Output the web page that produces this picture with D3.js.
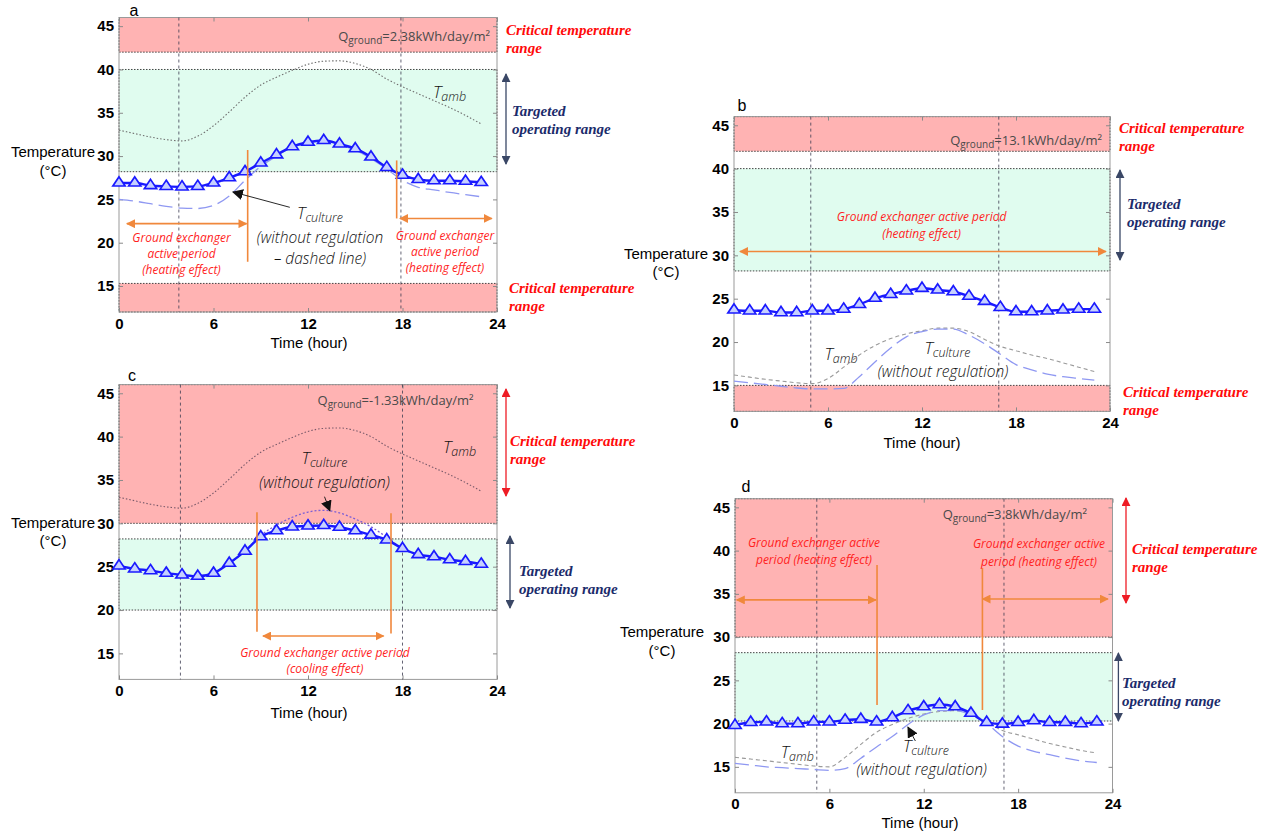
<!DOCTYPE html>
<html>
<head>
<meta charset="utf-8">
<script src="https://cdn.jsdelivr.net/npm/d3@7"></script>
<style>
  body { margin: 0; background: #fff; }
  svg { display: block; }
  .tick text { font-family: "Liberation Sans", Arial, sans-serif; font-weight: bold; font-size: 15px; fill: #000; }
  .tick line { stroke: #8a8a8a; }
  .axis-title { font-family: "Liberation Sans", Arial, sans-serif; font-size: 15px; fill: #000; }
  .letter { font-family: "Liberation Sans", Arial, sans-serif; font-size: 16px; fill: #000; }
  .critical { font-family: "Liberation Serif", "Times New Roman", serif; font-weight: bold; font-style: italic; font-size: 15px; fill: #ff0a0a; }
  .targeted { font-family: "Liberation Serif", "Times New Roman", serif; font-weight: bold; font-style: italic; font-size: 15px; fill: #1b2b6b; }
  .ground { font-family: "Open Sans", "DejaVu Sans", sans-serif; font-style: italic; font-weight: 400; font-size: 12px; fill: #ff1f1f; }
  .note { font-family: "Open Sans", "DejaVu Sans", sans-serif; font-style: italic; font-weight: 300; font-size: 15.5px; fill: #111; }
  .qtext { font-family: "Open Sans", "DejaVu Sans", sans-serif; font-size: 13px; fill: #4a4a4a; }
</style>
</head>
<body>
<div id="chart"></div>
<script>
// hourly values (°C)
const hours = [0, 1, 2, 3, 4, 5, 6, 7, 8, 9, 10, 11, 12, 13, 14, 15, 16, 17, 18, 19, 20, 21, 22, 23];
const xTicks = [0, 6, 12, 18, 24];
const yTicks = [15, 20, 25, 30, 35, 40, 45];

const aRegulated   = [26.9, 26.9, 26.6, 26.5, 26.45, 26.5, 26.9, 27.5, 28.2, 29.2, 30.15, 31.1, 31.6, 31.8, 31.4, 30.85, 29.9, 28.7, 27.8, 27.3, 27.15, 27.15, 27.1, 26.95];
const aUnregulated = [25.0, 24.8, 24.5, 24.2, 24.0, 23.95, 24.3, 25.4, 27.2, 28.8, 30.0, 31.0, 31.5, 31.7, 31.3, 30.7, 29.7, 28.5, 27.2, 26.4, 26.1, 25.8, 25.55, 25.3];
const aAmbient     = [33.0, 32.6, 32.2, 31.9, 31.75, 32.3, 33.5, 35.1, 36.8, 38.2, 39.1, 39.9, 40.6, 40.95, 41.0, 40.7, 40.0, 38.9, 38.0, 37.2, 36.4, 35.6, 34.7, 33.7];

const bRegulated   = [23.7, 23.6, 23.6, 23.4, 23.4, 23.6, 23.6, 23.8, 24.35, 25.05, 25.5, 25.9, 26.2, 26.0, 25.8, 25.3, 24.7, 24.0, 23.5, 23.5, 23.6, 23.7, 23.8, 23.8];
const bUnregulated = [15.5, 15.3, 15.1, 14.9, 14.7, 14.6, 14.6, 14.65, 16.0, 17.7, 19.3, 20.6, 21.2, 21.5, 21.5, 20.8, 19.8, 18.6, 17.4, 16.8, 16.3, 16.0, 15.8, 15.6];
const bAmbient     = [16.2, 15.95, 15.7, 15.5, 15.3, 15.2, 15.8, 17.1, 18.5, 19.6, 20.4, 20.95, 21.3, 21.6, 21.6, 21.2, 20.3, 19.5, 19.0, 18.5, 18.1, 17.6, 17.1, 16.6];

const cRegulated   = [25.1, 24.75, 24.55, 24.25, 24.05, 23.9, 24.25, 25.4, 26.8, 28.45, 29.15, 29.6, 29.7, 29.75, 29.55, 29.15, 28.65, 28.1, 27.1, 26.4, 26.15, 25.8, 25.6, 25.3];
const cUnregulated = [25.1, 24.75, 24.55, 24.25, 24.05, 23.9, 24.25, 25.4, 26.8, 28.6, 29.8, 30.7, 31.3, 31.5, 31.2, 30.5, 29.6, 28.4, 27.1, 26.4, 26.15, 25.8, 25.6, 25.3];
const cAmbient     = [33.0, 32.6, 32.2, 31.9, 31.75, 32.3, 33.5, 35.1, 36.8, 38.2, 39.1, 39.9, 40.6, 40.95, 41.0, 40.7, 40.0, 38.9, 38.0, 37.2, 36.4, 35.6, 34.7, 33.7];

const dRegulated   = [19.8, 20.15, 20.2, 20.0, 20.0, 20.2, 20.2, 20.4, 20.5, 20.2, 20.7, 21.5, 21.95, 22.2, 21.95, 21.2, 20.15, 19.95, 20.15, 20.35, 20.15, 20.15, 20.0, 20.2];
const dUnregulated = [15.4, 15.2, 15.0, 14.9, 14.8, 14.7, 14.6, 14.8, 16.0, 17.3, 18.5, 19.9, 21.0, 21.5, 21.5, 21.0, 20.0, 18.5, 17.4, 16.8, 16.4, 16.0, 15.7, 15.5];
const dAmbient     = [16.1, 15.9, 15.7, 15.5, 15.3, 15.1, 15.0, 16.1, 17.6, 19.0, 19.9, 20.6, 21.1, 21.4, 21.5, 21.1, 20.2, 19.2, 18.7, 18.2, 17.7, 17.3, 16.9, 16.6];

// temperature ranges [low, high]
const aCritical = [[42, 46], [12, 15.3]];
const aTarget   = [28.2, 40];
const bCritical = [[42, 46], [12, 15]];
const bTarget   = [28.2, 40];
const cCritical = [[30, 46]];
const cTarget   = [20, 28.2];
const dCritical = [[30, 46]];
const dTarget   = [20.3, 28.2];

// sunrise / sunset markers (hour)
const aDayMarks = [3.8, 17.9];
const bDayMarks = [4.9, 16.9];
const cDayMarks = [3.9, 18.0];
const dDayMarks = [5.2, 17.1];

const qGround = { a: "=2.38kWh/day/m²", b: "=13.1kWh/day/m²", c: "=-1.33kWh/day/m²", d: "=3.8kWh/day/m²" };

const ORANGE = "#f0883c", NAVY = "#3a4766", RED = "#ee1c25";

const svg = d3.select("#chart").append("svg").attr("width", 1266).attr("height", 834);
const defs = svg.append("defs");

function marker(id, color, size) {
  defs.append("marker")
    .attr("id", id)
    .attr("viewBox", "0 0 10 10")
    .attr("refX", 9).attr("refY", 5)
    .attr("markerWidth", size).attr("markerHeight", size)
    .attr("markerUnits", "userSpaceOnUse")
    .attr("orient", "auto-start-reverse")
    .append("path").attr("d", "M0,0 L10,5 L0,10 z").attr("fill", color);
}
marker("m-orange", ORANGE, 9);
marker("m-navy", NAVY, 9);
marker("m-red", RED, 9);
marker("m-black", "#111", 11);

function seg(x1, y1, x2, y2, color, width, head) {
  const l = svg.append("line")
    .attr("x1", x1).attr("y1", y1).attr("x2", x2).attr("y2", y2)
    .attr("stroke", color).attr("stroke-width", width);
  if (head) {
    l.attr("marker-end", `url(#${head})`);
    if (head !== "m-black") l.attr("marker-start", `url(#${head})`);
  }
  return l;
}

function lines(px, baselines, texts, cls, anchor) {
  texts.forEach((t, i) => {
    svg.append("text").attr("class", cls)
      .attr("x", px).attr("y", baselines[i])
      .attr("text-anchor", anchor || "start")
      .text(t);
  });
}

function tSub(px, py, sub, anchor) {
  const t = svg.append("text").attr("class", "note")
    .attr("x", px).attr("y", py).attr("text-anchor", anchor || "start");
  t.append("tspan").attr("font-size", 17).text("T");
  t.append("tspan").attr("font-size", 12.5).attr("dy", 3).text(sub);
}

function qLabel(px, py, value) {
  const t = svg.append("text").attr("class", "qtext")
    .attr("x", px).attr("y", py).attr("text-anchor", "end");
  t.append("tspan").text("Q");
  t.append("tspan").attr("font-size", 10).attr("dy", 3).text("ground");
  t.append("tspan").attr("dy", -3).text(value);
}

function drawPanel(p) {
  const x = d3.scaleLinear().domain([0, 24]).range([p.left, p.right]);
  const y = d3.scaleLinear().domain([12, 46]).range([p.bottom, p.top]);
  const g = svg.append("g");

  // shaded ranges
  p.critical.forEach(r => {
    g.append("rect")
      .attr("x", x(0)).attr("width", x(24) - x(0))
      .attr("y", y(r[1])).attr("height", y(r[0]) - y(r[1]))
      .attr("fill", "#ffb3b3")
      .attr("stroke", "#444").attr("stroke-dasharray", "1.5,1.5").attr("stroke-width", 1);
  });
  g.append("rect")
    .attr("x", x(0)).attr("width", x(24) - x(0))
    .attr("y", y(p.target[1])).attr("height", y(p.target[0]) - y(p.target[1]))
    .attr("fill", "#e0fcef")
    .attr("stroke", "#444").attr("stroke-dasharray", "1.5,1.5").attr("stroke-width", 1);

  // frame
  g.append("rect")
    .attr("x", p.left).attr("y", p.top)
    .attr("width", p.right - p.left).attr("height", p.bottom - p.top)
    .attr("fill", "none").attr("stroke", "#9a9a9a");

  // axes with inward ticks on all sides
  const bottomAx = g.append("g").attr("transform", `translate(0,${p.bottom})`)
    .call(d3.axisBottom(x).tickValues(xTicks).tickSize(-4).tickPadding(6));
  const leftAx = g.append("g").attr("transform", `translate(${p.left},0)`)
    .call(d3.axisLeft(y).tickValues(yTicks).tickSize(-4).tickPadding(5));
  const topAx = g.append("g").attr("transform", `translate(0,${p.top})`)
    .call(d3.axisTop(x).tickValues(xTicks).tickSize(-4).tickFormat(""));
  const rightAx = g.append("g").attr("transform", `translate(${p.right},0)`)
    .call(d3.axisRight(y).tickValues(yTicks).tickSize(-4).tickFormat(""));
  [bottomAx, leftAx, topAx, rightAx].forEach(a => a.select(".domain").remove());

  // sunrise/sunset dashed lines
  p.dayMarks.forEach(h => {
    g.append("line")
      .attr("x1", x(h)).attr("x2", x(h)).attr("y1", p.top).attr("y2", p.bottom)
      .attr("stroke", "#3c3c50").attr("stroke-width", 0.8).attr("stroke-dasharray", "3,3");
  });

  const line = d3.line().x((d, i) => x(hours[i])).y(d => y(d)).curve(d3.curveMonotoneX);

  g.append("path").datum(p.ambient).attr("d", line)
    .attr("fill", "none").attr("stroke", p.ambColor).attr("stroke-width", 1.1)
    .attr("stroke-dasharray", p.ambDash);

  g.append("path").datum(p.unregulated).attr("d", line)
    .attr("fill", "none").attr("stroke", p.unregColor).attr("stroke-width", 1.3)
    .attr("stroke-dasharray", p.unregDash);

  g.append("path").datum(p.regulated).attr("d", line)
    .attr("fill", "none").attr("stroke", "#1a1aff").attr("stroke-width", 2.4);

  g.selectAll(".tri").data(p.regulated).join("path")
    .attr("class", "tri")
    .attr("transform", (d, i) => `translate(${x(hours[i])},${y(d)}) scale(1.1,0.95)`)
    .attr("d", d3.symbol(d3.symbolTriangle, 55))
    .attr("fill", "#c6d0ff").attr("stroke", "#1a1aff").attr("stroke-width", 1.6);

  return { x, y };
}

const panels = [
  { id: "a", left: 119, right: 497, top: 17.5, bottom: 312, critical: aCritical, target: aTarget, dayMarks: aDayMarks,
    regulated: aRegulated, unregulated: aUnregulated, ambient: aAmbient,
    ambColor: "#6f6f6f", ambDash: "1.5,2", unregColor: "#8f98f2", unregDash: "14,6" },
  { id: "b", left: 734, right: 1110, top: 116.6, bottom: 411.4, critical: bCritical, target: bTarget, dayMarks: bDayMarks,
    regulated: bRegulated, unregulated: bUnregulated, ambient: bAmbient,
    ambColor: "#9a9a9a", ambDash: "4,3", unregColor: "#8f98f2", unregDash: "14,6" },
  { id: "c", left: 119, right: 497, top: 384.6, bottom: 679.4, critical: cCritical, target: cTarget, dayMarks: cDayMarks,
    regulated: cRegulated, unregulated: cUnregulated, ambient: cAmbient,
    ambColor: "#7a5a6a", ambDash: "1.5,2", unregColor: "#7d5fd6", unregDash: "2,2" },
  { id: "d", left: 735, right: 1112.5, top: 498.7, bottom: 792.8, critical: dCritical, target: dTarget, dayMarks: dDayMarks,
    regulated: dRegulated, unregulated: dUnregulated, ambient: dAmbient,
    ambColor: "#9a9a9a", ambDash: "4,3", unregColor: "#8f98f2", unregDash: "14,6" }
];

const scales = {};
panels.forEach(p => { scales[p.id] = drawPanel(p); });

// ---- panel a annotations
{
  const { x, y } = scales.a;
  seg(x(8.17), y(30.7), x(8.17), y(17.8), ORANGE, 1.6);
  seg(x(17.63), y(29.5), x(17.63), y(22.8), ORANGE, 1.6);
  seg(x(0.5), y(22.2), x(8.1), y(22.2), ORANGE, 1.6, "m-orange");
  seg(x(17.84), y(22.8), x(23.67), y(22.8), ORANGE, 1.6, "m-orange");
  lines(181.5, [242, 258, 274], ["Ground exchanger", "active period", "(heating effect)"], "ground", "middle");
  lines(445, [240, 256, 272], ["Ground exchanger", "active period", "(heating effect)"], "ground", "middle");
  tSub(320, 219, "culture", "middle");
  lines(320, [243, 264], ["(without regulation", "– dashed line)"], "note", "middle");
  seg(289.8, 207.3, 233, 192, "#111", 0.9, "m-black");
  tSub(433, 98, "amb");
  qLabel(490, 41, qGround.a);
  lines(506, [35, 53], ["Critical temperature", "range"], "critical");
  lines(509, [293, 311], ["Critical temperature", "range"], "critical");
  lines(512, [116, 134], ["Targeted", "operating range"], "targeted");
  seg(506, 74, 506, 164, NAVY, 1.3, "m-navy");
  lines(134, [16], ["a"], "letter", "middle");
  lines(53, [157, 176], ["Temperature", "(°C)"], "axis-title", "middle");
  lines(309, [348], ["Time (hour)"], "axis-title", "middle");
}

// ---- panel b annotations
{
  const { x, y } = scales.b;
  seg(x(0.38), y(30.44), x(23.74), y(30.44), ORANGE, 1.6, "m-orange");
  lines(921.6, [221, 237.5], ["Ground exchanger active period", "(heating effect)"], "ground", "middle");
  tSub(824.5, 360, "amb");
  tSub(924.5, 354, "culture");
  lines(943, [377], ["(without regulation)"], "note", "middle");
  qLabel(1102, 145, qGround.b);
  lines(1119, [133, 151], ["Critical temperature", "range"], "critical");
  lines(1123, [397, 415], ["Critical temperature", "range"], "critical");
  lines(1127, [209, 227], ["Targeted", "operating range"], "targeted");
  seg(1120, 170, 1120, 260, NAVY, 1.3, "m-navy");
  lines(742, [111], ["b"], "letter", "middle");
  lines(666, [258.5, 277], ["Temperature", "(°C)"], "axis-title", "middle");
  lines(922, [447.5], ["Time (hour)"], "axis-title", "middle");
}

// ---- panel c annotations
{
  const { x, y } = scales.c;
  seg(x(8.76), y(31.27), x(8.76), y(17.5), ORANGE, 1.6);
  seg(x(17.27), y(31.16), x(17.27), y(17.3), ORANGE, 1.6);
  seg(x(9.14), y(17.0), x(16.8), y(17.0), ORANGE, 1.6, "m-orange");
  lines(325, [656.5, 673], ["Ground exchanger active period", "(cooling effect)"], "ground", "middle");
  tSub(324.5, 464, "culture", "middle");
  lines(324.5, [488], ["(without regulation)"], "note", "middle");
  seg(324.5, 496.7, 329.8, 510.7, "#111", 0.9, "m-black");
  tSub(443, 453, "amb");
  qLabel(473.5, 405, qGround.c);
  seg(506, 389, 506, 496, RED, 1.3, "m-red");
  lines(510, [446, 464], ["Critical temperature", "range"], "critical");
  seg(510, 536, 510, 608, NAVY, 1.3, "m-navy");
  lines(519, [576, 594], ["Targeted", "operating range"], "targeted");
  lines(132, [381], ["c"], "letter", "middle");
  lines(53, [527.5, 545.5], ["Temperature", "(°C)"], "axis-title", "middle");
  lines(309, [718], ["Time (hour)"], "axis-title", "middle");
}

// ---- panel d annotations
{
  const { x, y } = scales.d;
  seg(x(9.03), y(38.33), x(9.03), y(22.15), ORANGE, 1.6);
  seg(x(15.73), y(38.0), x(15.73), y(21.57), ORANGE, 1.6);
  seg(x(0.11), y(34.3), x(8.96), y(34.3), ORANGE, 1.6, "m-orange");
  seg(x(15.73), y(34.4), x(23.71), y(34.4), ORANGE, 1.6, "m-orange");
  lines(814, [547, 564], ["Ground exchanger active", "period (heating effect)"], "ground", "middle");
  lines(1039, [548, 565.5], ["Ground exchanger active", "period (heating effect)"], "ground", "middle");
  tSub(780.7, 758, "amb");
  tSub(903, 752, "culture");
  lines(921.7, [775], ["(without regulation)"], "note", "middle");
  seg(915.4, 741, 908, 727.3, "#111", 0.9, "m-black");
  qLabel(1087, 519, qGround.d);
  seg(1126, 498, 1126, 603, RED, 1.3, "m-red");
  lines(1132, [553.5, 572], ["Critical temperature", "range"], "critical");
  seg(1118.4, 653, 1118.4, 721, NAVY, 1.3, "m-navy");
  lines(1122, [687.5, 706], ["Targeted", "operating range"], "targeted");
  lines(746, [492], ["d"], "letter", "middle");
  lines(662, [637, 655.5], ["Temperature", "(°C)"], "axis-title", "middle");
  lines(920, [828], ["Time (hour)"], "axis-title", "middle");
}
</script>
</body>
</html>
